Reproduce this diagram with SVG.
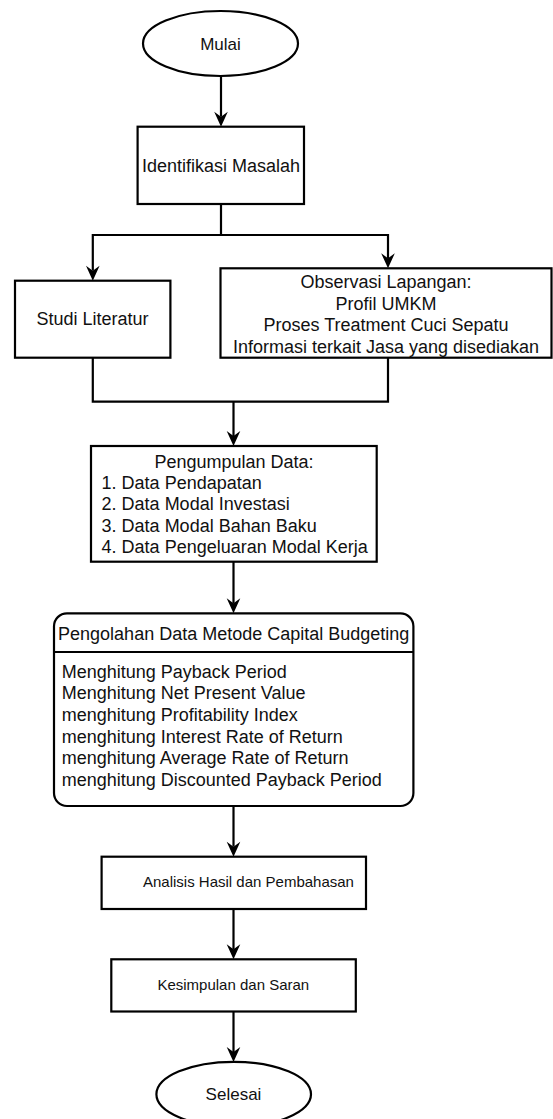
<svg xmlns="http://www.w3.org/2000/svg" width="553" height="1119" viewBox="0 0 553 1119">
<style>
.shape{fill:#fff;stroke:#000;stroke-width:2.2}
.conn{fill:none;stroke:#000;stroke-width:2.2}
text{font-family:"Liberation Sans",Arial,Helvetica,sans-serif;fill:#111}
.f18{font-size:18px}
.f17{font-size:17px}
.f15{font-size:15px}
.c{text-anchor:middle}
</style>
<defs>
<marker id="arrow" markerUnits="userSpaceOnUse" markerWidth="20" markerHeight="20" refX="0" refY="0" orient="auto" overflow="visible">
<path d="M10,0 L-5,-6.8 L0,0 L-5,6.8 Z" fill="#000" stroke="none"/>
</marker>
</defs>
<rect width="553" height="1119" fill="#fff"/>
<g id="connectors">
<path class="conn" d="M221,76 V116.7" marker-end="url(#arrow)"/>
<path class="conn" d="M221,204 V235 M92.8,235 H388"/>
<path class="conn" d="M92.8,234 V270.7" marker-end="url(#arrow)"/>
<path class="conn" d="M388,234 V258.3" marker-end="url(#arrow)"/>
<path class="conn" d="M92.8,357.7 V401.7 H388 V357.7"/>
<path class="conn" d="M233.5,401.7 V436" marker-end="url(#arrow)"/>
<path class="conn" d="M233.5,561.7 V603.3" marker-end="url(#arrow)"/>
<path class="conn" d="M233.5,806 V846.7" marker-end="url(#arrow)"/>
<path class="conn" d="M233.5,909 V949.3" marker-end="url(#arrow)"/>
<path class="conn" d="M233.5,1011.5 V1052" marker-end="url(#arrow)"/>
</g>
<g id="mulai">
<ellipse class="shape" cx="220.5" cy="43.5" rx="77.5" ry="32.5"/>
<text class="f17 c" x="220.5" y="49.5">Mulai</text>
</g>
<g id="identifikasi">
<rect class="shape" x="137.6" y="126.7" width="166.4" height="77.3"/>
<text class="f18 c" x="221" y="171.5">Identifikasi Masalah</text>
</g>
<g id="studi">
<rect class="shape" x="15" y="280.7" width="155.4" height="77"/>
<text class="f18 c" x="92.5" y="325">Studi Literatur</text>
</g>
<g id="observasi">
<rect class="shape" x="220.5" y="268.3" width="331" height="89.4"/>
<text class="f18 c" x="386" y="288">Observasi Lapangan:</text>
<text class="f18 c" x="386" y="309.5">Profil UMKM</text>
<text class="f18 c" x="386" y="331">Proses Treatment Cuci Sepatu</text>
<text class="f18 c" x="386" y="352.5">Informasi terkait Jasa yang disediakan</text>
</g>
<g id="pengumpulan">
<rect class="shape" x="91" y="446" width="285.7" height="115.7"/>
<text class="f18 c" x="234" y="467.5">Pengumpulan Data:</text>
<text class="f18" x="101.6" y="488.5">1. Data Pendapatan</text>
<text class="f18" x="101.6" y="510">2. Data Modal Investasi</text>
<text class="f18" x="101.6" y="531.5">3. Data Modal Bahan Baku</text>
<text class="f18" x="101.6" y="553">4. Data Pengeluaran Modal Kerja</text>
</g>
<g id="pengolahan">
<rect class="shape" x="54" y="613.3" width="359.4" height="192.7" rx="13" ry="13"/>
<line class="conn" x1="54" y1="652" x2="413.4" y2="652"/>
<text class="f18 c" x="233.7" y="640">Pengolahan Data Metode Capital Budgeting</text>
<text class="f18" x="61.7" y="677.5">Menghitung Payback Period</text>
<text class="f18" x="61.7" y="699.2">Menghitung Net Present Value</text>
<text class="f18" x="61.7" y="720.9">menghitung Profitability Index</text>
<text class="f18" x="61.7" y="742.6">menghitung Interest Rate of Return</text>
<text class="f18" x="61.7" y="764.3">menghitung Average Rate of Return</text>
<text class="f18" x="61.7" y="786">menghitung Discounted Payback Period</text>
</g>
<g id="analisis">
<rect class="shape" x="101.6" y="856.7" width="264.4" height="52.3"/>
<text class="f15" x="143" y="887">Analisis Hasil dan Pembahasan</text>
</g>
<g id="kesimpulan">
<rect class="shape" x="111.3" y="959.3" width="244.5" height="52.2"/>
<text class="f15 c" x="233.3" y="990.3">Kesimpulan dan Saran</text>
</g>
<g id="selesai">
<ellipse class="shape" cx="233.7" cy="1094.3" rx="77.3" ry="32.5"/>
<text class="f17 c" x="233.5" y="1100">Selesai</text>
</g>
</svg>
